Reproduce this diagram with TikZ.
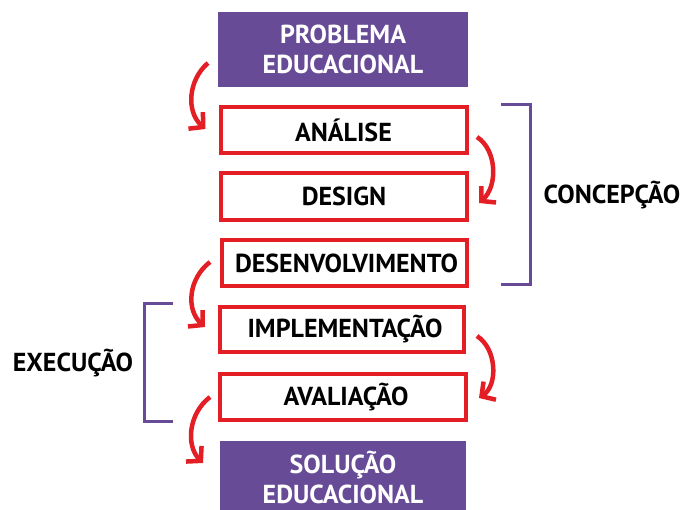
\documentclass[tikz,border=0pt]{standalone}
\usepackage{fontspec}
\setmainfont{PT Sans}
\usetikzlibrary{arrows.meta,calc}
\definecolor{purp}{HTML}{674B97}
\definecolor{myred}{HTML}{E31E24}
\begin{document}
\begin{tikzpicture}[x=1pt,y=-1pt,
  lbl/.style={font=\bfseries\fontsize{26}{30}\selectfont, text=black},
  redbox/.style={draw=myred, line width=4pt, fill=white, minimum width=246pt, minimum height=46pt, inner sep=0pt, outer sep=0pt, lbl},
  purpbox/.style={fill=purp, minimum width=250pt, inner sep=0pt, outer sep=0pt, align=center, font=\bfseries\fontsize{26}{30}\selectfont, text=white},
  flow/.style={draw=myred, line width=4.5pt, -{Straight Barb[length=10pt,width=22pt,line width=4.5pt]}},
  brk/.style={draw=purp, line width=3pt}]
\useasboundingbox (0,0) rectangle (685,510);
\node[purpbox, minimum height=75pt] (prob) at (343,49.5) {PROBLEMA\\EDUCACIONAL};
\node[redbox] (ana) at (343.5,130) {ANÁLISE};
\node[redbox, minimum height=47pt] (des) at (344,196.5) {DESIGN};
\node[redbox, minimum width=245pt] (dev) at (344.5,263) {\hspace*{4pt}DESENVOLVIMENTO};
\node[redbox, minimum width=244pt, minimum height=45pt] (imp) at (342,329.5) {\hspace*{6pt}IMPLEMENTAÇÃO};
\node[redbox] (ava) at (343,397) {\hspace*{6pt}AVALIAÇÃO};
\node[purpbox, minimum width=246pt, minimum height=72pt] (sol) at (343,477) {SOLUÇÃO\\EDUCACIONAL};
\node[lbl] (conc) at (612,195) {CONCEPÇÃO};
\node[lbl] (exec) at (73,363) {EXECUÇÃO};
% brackets
\coordinate (c1) at (501,105);
\coordinate (c2) at (501,285);
\coordinate (e1) at (173,304);
\coordinate (e2) at (173,421);
\draw[brk] (c1) -- ++(29,0) -- ++(0,180) -- (c2);
\draw[brk] (e1) -- ++(-29,0) -- ++(0,117) -- (e2);
% arrows
\draw[flow] ([shift={(-10,13.5)}]prob.west) .. controls (188,80) and (186,112) .. ([shift={(-15,-1)}]ana.west);
\draw[flow] ([shift={(10.5,7)}]ana.east) .. controls (497,150) and (498,186) .. ([shift={(12,6.5)}]des.east);
\draw[flow] ([shift={(-12,-1)}]dev.west) .. controls (188,279) and (186,310) .. ([shift={(-15,-2.5)}]imp.west);
\draw[flow] ([shift={(13,6.5)}]imp.east) .. controls (497,349) and (498,385) .. ([shift={(13,1)}]ava.east);
\draw[flow] ([shift={(-10,0)}]ava.west) .. controls (188,414) and (186,446) .. ([shift={(-17,-14)}]sol.west);
\end{tikzpicture}
\end{document}
